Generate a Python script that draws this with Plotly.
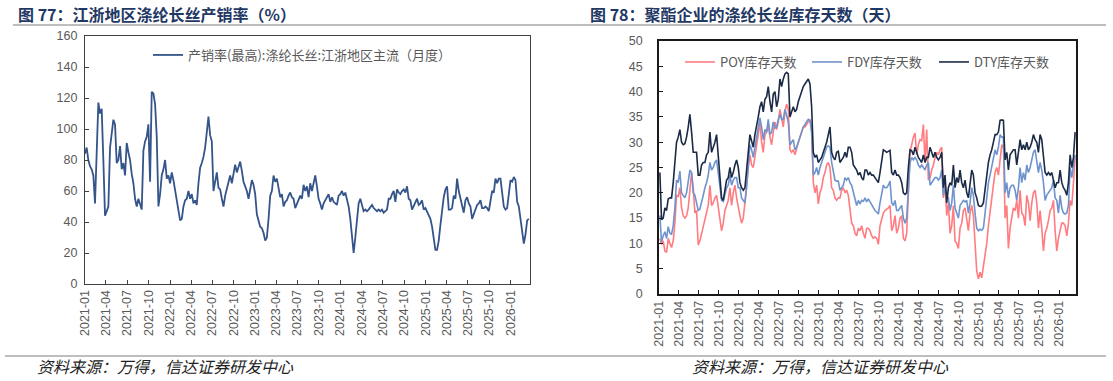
import pandas as pd
import plotly.graph_objects as go

W, H = 1113, 381

# ---------------- data: left chart (产销率, weekly readings) ----------------
left_start, left_end = "2021-01-01", "2026-03-20"
sales_ratio = [
    84, 88, 80, 76, 74, 70, 52, 90, 117, 110,
    113, 80, 44, 47, 50, 88, 97, 106, 103, 78,
    80, 89, 74, 78, 70, 91, 85, 80, 71, 65,
    55, 50, 55, 52, 48, 86, 92, 95, 103, 66,
    124, 123, 116, 95, 50, 58, 70, 74, 80, 68,
    70, 65, 72, 67, 60, 53, 46, 41, 42, 50,
    54, 55, 60, 55, 58, 52, 54, 51, 65, 75,
    78, 82, 88, 100, 108, 96, 92, 60, 65, 72,
    62, 61, 55, 50, 57, 62, 66, 70, 65, 72,
    77, 72, 75, 79, 73, 66, 63, 60, 55, 60,
    67, 64, 58, 45, 40, 37, 36, 33, 28, 30,
    42, 57, 60, 70, 66, 68, 62, 56, 58, 50,
    53, 54, 57, 59, 56, 55, 49, 52, 55, 57,
    55, 64, 60, 63, 56, 65, 60, 66, 70, 63,
    55, 52, 48, 52, 54, 56, 58, 53, 56, 53,
    52, 51, 57, 58, 60, 57, 59, 55, 50, 42,
    30, 20, 30, 44, 52, 55, 50, 47, 48, 47,
    48, 50, 51, 49, 48, 47, 48, 47, 48, 46,
    47, 48, 55, 55, 58, 60, 53, 61, 59, 58,
    60, 61, 59, 63, 55, 54, 48, 50, 53, 55,
    51, 52, 54, 48, 49, 47, 45, 42, 37, 28,
    22, 22, 28, 38, 48, 56, 61, 63, 48, 48,
    49, 57, 55, 68, 60, 55, 50, 46, 54, 56,
    52, 50, 42, 45, 49, 51, 52, 54, 49, 49,
    50, 49, 47, 55, 60, 59, 68, 65, 68, 68,
    57, 50, 48, 49, 58, 67, 66, 69, 67, 53,
    50, 43, 34, 26, 32, 41, 42,
]
left_name = "产销率(最高):涤纶长丝:江浙地区主流（月度）"

# ---------------- data: right chart (库存天数) ----------------
right_start, right_end = "2021-01-05", "2026-03-15"
dty_days = [
    24, 14.7, 15, 17, 16.5, 18.8, 19, 19, 22, 27,
    30, 31, 32.5, 30, 29.5, 29.7, 31, 33, 35.5, 32,
    28, 28, 28, 23.5, 23.5, 25.5, 26, 26, 27.5, 28,
    32, 28, 29, 30, 31.5, 27, 24, 19, 18.5, 21,
    22.5, 23, 25, 23, 24, 25.5, 26.5, 25, 22, 21,
    20.5, 21, 24, 28, 31.5, 30, 29, 31.5, 33, 35,
    37, 38, 36, 38.5, 39, 41, 38, 36, 39.5, 40,
    37, 38.5, 42.5, 41, 42.5, 43.5, 43.8, 43.5, 35, 36,
    37, 36, 36.5, 38, 39, 40, 41, 41.5, 42, 42.5,
    41.5, 37, 28, 27, 27.5, 26, 26.5, 27, 28, 29,
    30, 31.5, 33, 28, 27, 26.5, 28, 28.2, 26, 26.5,
    27, 28, 27, 29, 29, 28, 25.5, 25, 24.5, 23.5,
    24, 23, 22.5, 24.5, 24.5, 23.5, 24, 23.5, 23.5, 23,
    22.5, 22, 24, 26, 28.5, 28.3, 28, 28.2, 28.4, 24,
    23.5, 24.5, 23.5, 23.5, 23, 22, 20, 19.7, 20, 25,
    28.5, 28.3, 27.5, 29, 28, 27, 26.5, 26, 27.5, 26,
    27, 27, 29, 28, 27, 28, 27, 26.5, 27, 28,
    21, 23.5, 18, 21, 22, 21.5, 25.5, 21, 23, 22,
    24.5, 22, 21, 22.5, 20, 19, 22, 24.5, 23.5, 20,
    19, 17.5, 17.3, 17.4, 18, 21, 24, 26, 27.5, 28.5,
    30, 31.5, 31.5, 32, 34.3, 34.4, 34.3, 26.5, 28, 24.5,
    27.5, 28, 28.5, 28.5, 25.5, 28, 30.5, 28.5, 29.5, 28.5,
    30, 28.5, 29, 30, 31.5, 30.5, 30, 28, 31.5, 30.5,
    27, 24, 23.5, 24, 23.5, 24, 22.5, 21, 22, 22,
    24.5, 22, 21, 20.5, 19.5, 22, 27.5, 25, 27, 32,
]
fdy_days = [
    15.5, 10.3, 11.5, 12.3, 11, 13.3, 12, 11.8, 13.5, 17,
    22.5, 22, 24.3, 20, 19.5, 19, 20, 22, 24.5, 24,
    20, 19.5, 18, 16.5, 16.8, 18, 19.5, 21, 22, 23.5,
    26, 24.5, 25, 26, 26.5, 24, 21, 18.5, 18.3, 20,
    21, 21.5, 23.5, 21.5, 22.5, 23, 23, 21, 21, 19,
    18.5, 18, 21, 26, 29.5, 28.5, 27, 29, 31, 33,
    34.8, 33, 30.5, 32.5, 32, 34.5, 31.5, 32, 34, 32.8,
    33, 34.5, 35.5, 34.5, 34.5, 36.5, 35, 34, 29.5, 30,
    30.5, 28.5, 29, 30, 31, 32, 33, 33.5, 34, 34.5,
    34.3, 32, 23.5, 24, 25, 23.5, 25, 26, 27, 28,
    29, 29.3, 29, 26, 24, 22.5, 22.3, 22.3, 20.5, 21,
    21.5, 23, 22.5, 23, 22, 21.5, 20, 18.5, 17.5, 18.5,
    17.8, 18.5, 18.3, 19, 18.2, 18.8, 18.2, 17.5, 17, 16.5,
    16.2, 15.8, 18, 20, 21.5, 21, 21, 21.5, 22.3, 18,
    17.5, 18.5, 16.5, 16.5, 17, 17.5, 15, 14, 15, 20,
    26, 27, 26.5, 27, 26.5, 25.5, 25, 25.5, 25, 24.5,
    25.5, 26, 21.5, 22, 22.5, 23, 23, 22.5, 23, 24.5,
    19.5, 21, 19.5, 19, 16.5, 18, 21.5, 17, 16, 15,
    17.5, 18, 18.5, 18.2, 18.5, 16, 18, 21, 19.5, 16,
    13, 12.5, 12.8, 12.6, 13, 16, 19.5, 22, 23.5, 25,
    27, 28.5, 27.5, 29, 31.5, 31, 31, 20, 22, 19,
    21, 21.5, 21.5, 20.5, 18.5, 21, 25, 22, 24, 22.5,
    25.5, 24, 25, 26.5, 28, 28.5, 26, 24, 26, 24.5,
    22, 18.5, 19.5, 20, 20.5, 21, 22.5, 19, 18.5, 16,
    19.5, 17, 16, 15.8, 16, 17.5, 25, 23, 25.5, 27.5,
]
poy_days = [
    11, 9.8, 10.5, 8.5, 8.2, 11, 10, 9.2, 10.5, 14,
    19.5, 19.3, 21, 17, 15.5, 15, 15.5, 17, 20.5, 24,
    21, 16, 16.5, 9.7, 10.5, 12, 13, 14.5, 16, 17.5,
    21.5, 17.5, 18, 19, 19.5, 17, 14, 12.5, 14, 16.5,
    17.5, 18.5, 21, 17.5, 20, 21.5, 19, 17, 15.5, 14,
    15, 18, 22, 25, 27.5, 25.5, 25, 27, 29, 31.5,
    34, 30, 28, 31.5, 32, 33.5, 31, 29.5, 32, 34,
    32.5, 34, 36.5, 35, 33, 36, 37.5, 36.5, 28.5, 28,
    28.5, 27.5, 29, 30, 31, 32, 33, 33, 33.5, 34,
    34.5, 32.5, 22, 20, 21.5, 17.8, 20, 21, 23, 24,
    25.5, 26, 25, 21, 20.5, 19, 18.5, 19, 19, 20.5,
    21, 20, 20.5, 19.5, 16.5, 14, 13.5, 12, 11.5, 13,
    12.5, 13.5, 12, 11, 13, 13, 12.5, 11.5, 11, 11.3,
    11, 9.8, 13.5, 15, 16, 16.5, 16.7, 17, 17.5, 12.5,
    13.5, 15.5, 12, 13, 15, 15.5, 11, 10.5, 12, 22,
    28, 29.5, 31, 31.8, 27.5, 29.5, 30.5, 30.3, 33.5, 26,
    32.5, 22.5, 23, 24.5, 25.5, 27, 28, 27.5, 28.5, 29,
    19, 22, 15.5, 18, 12, 13.5, 17.5, 10.5, 10, 9,
    13, 14, 16.5, 17, 15, 12.5, 16, 17.5, 15.5, 10,
    4.5, 3, 4.3, 3.2, 5.5, 7, 10, 13.5, 16.5, 19,
    21.5, 24, 25, 23.5, 26, 29.5, 29, 15, 17.5, 9,
    13, 15, 17, 16.5, 18.5, 15, 20.5, 16, 15.5, 13.5,
    19.5, 18, 14.5, 18, 20, 20.5, 18, 13, 16.5, 13,
    8.5, 12, 13, 14.5, 16.5, 17, 18.5, 12.5, 8.5, 11,
    12.5, 14, 14, 13.5, 11.5, 14, 18.5, 17.5, 22, 27,
]
right_names = ["POY库存天数", "FDY库存天数", "DTY库存天数"]

title_left = "图 77：江浙地区涤纶长丝产销率（%）"
title_right = "图 78：聚酯企业的涤纶长丝库存天数（天）"
source_text = "资料来源：万得，信达证券研发中心"

# ---------------- figure ----------------
left_dates = pd.date_range(left_start, left_end, periods=len(sales_ratio))
right_dates = pd.date_range(right_start, right_end, periods=len(dty_days))

fig = go.Figure()
fig.add_trace(go.Scatter(x=left_dates, y=sales_ratio, mode="lines", name=left_name,
                         line=dict(color="#34548a", width=1.8), xaxis="x", yaxis="y",
                         legend="legend"))
for name, vals, col in zip(right_names, [poy_days, fdy_days, dty_days],
                           ["#ff7c80", "#6f93cc", "#1b2a45"]):
    fig.add_trace(go.Scatter(x=right_dates, y=vals, mode="lines", name=name,
                             line=dict(color=col, width=1.6), xaxis="x2", yaxis="y2",
                             legend="legend2"))

def px_x(p):
    return p / W

def px_y(p):
    return 1 - p / H

tickfont = dict(family="Liberation Sans, Arial, sans-serif", size=12.5, color="#595959")
common_x = dict(type="date", tickformat="%Y-%m", dtick="M3", tick0="2021-01-01",
                tickangle=-90, ticks="inside", ticklen=4, showgrid=False,
                showline=True, mirror=True, tickfont=tickfont, zeroline=False,
                automargin=False)
common_y = dict(ticks="inside", ticklen=4, showgrid=False, showline=True, mirror=True,
                tickfont=tickfont, zeroline=False, automargin=False)

fig.update_layout(
    width=W, height=H, margin=dict(l=0, r=0, t=0, b=0, autoexpand=False),
    paper_bgcolor="white", plot_bgcolor="white",
    font=dict(family="Noto Sans CJK SC, sans-serif", color="#595959"),
    xaxis=dict(domain=[px_x(85), px_x(530)], range=["2021-01-01", "2026-03-25"],
               anchor="y", linecolor="#404040", linewidth=1.3, tickcolor="#404040",
               **common_x),
    yaxis=dict(domain=[px_y(284), px_y(36)], range=[0, 160], dtick=20, anchor="x",
               linecolor="#404040", linewidth=1.3, tickcolor="#404040",
               ticklabelstandoff=4, **common_y),
    xaxis2=dict(domain=[px_x(659), px_x(1076)], range=["2021-01-01", "2026-03-19"],
                anchor="y2", linecolor="#1a1a1a", linewidth=1.6, tickcolor="#1a1a1a",
                **common_x),
    yaxis2=dict(domain=[px_y(294), px_y(41)], range=[0, 50], dtick=5, anchor="x2",
                linecolor="#1a1a1a", linewidth=1.6, tickcolor="#1a1a1a",
                ticklabelstandoff=12, **common_y),
    legend=dict(x=px_x(148), y=px_y(55), xanchor="left", yanchor="middle",
                orientation="h", bgcolor="rgba(0,0,0,0)",
                font=dict(family="Noto Sans CJK SC, sans-serif", size=13, color="#595959")),
    legend2=dict(x=px_x(680), y=px_y(62), xanchor="left", yanchor="middle",
                 orientation="h", bgcolor="rgba(0,0,0,0)", entrywidth=82,
                 font=dict(family="Noto Sans CJK SC, sans-serif", size=13, color="#595959")),
    showlegend=True,
)

fig.add_shape(type="line", xref="paper", yref="paper", x0=px_x(13), x1=px_x(1106),
              y0=px_y(25), y1=px_y(25), line=dict(color="#7f7f7f", width=1.2))
fig.add_shape(type="line", xref="paper", yref="paper", x0=px_x(5), x1=px_x(1106),
              y0=px_y(356), y1=px_y(356), line=dict(color="#7f7f7f", width=1.2))

title_font = dict(family="Noto Sans CJK SC, sans-serif", size=16, color="#1f3864")
fig.add_annotation(text="<b>%s</b>" % title_left, xref="paper", yref="paper",
                   x=px_x(16), y=px_y(14), xanchor="left", yanchor="middle",
                   showarrow=False, font=title_font)
fig.add_annotation(text="<b>%s</b>" % title_right, xref="paper", yref="paper",
                   x=px_x(588), y=px_y(14), xanchor="left", yanchor="middle",
                   showarrow=False, font=title_font)
src_font = dict(family="Noto Sans CJK SC, sans-serif", size=16, color="#222222")
for xp in (35, 690):
    fig.add_annotation(text="<i>%s</i>" % source_text, xref="paper", yref="paper",
                       x=px_x(xp), y=px_y(366), xanchor="left", yanchor="middle",
                       showarrow=False, font=src_font)

# remove the default page margin so the 1113x381 figure fills the window exactly
fig.write_html("out.html", config={"displayModeBar": False},
               post_script="document.body.style.margin='0';")
